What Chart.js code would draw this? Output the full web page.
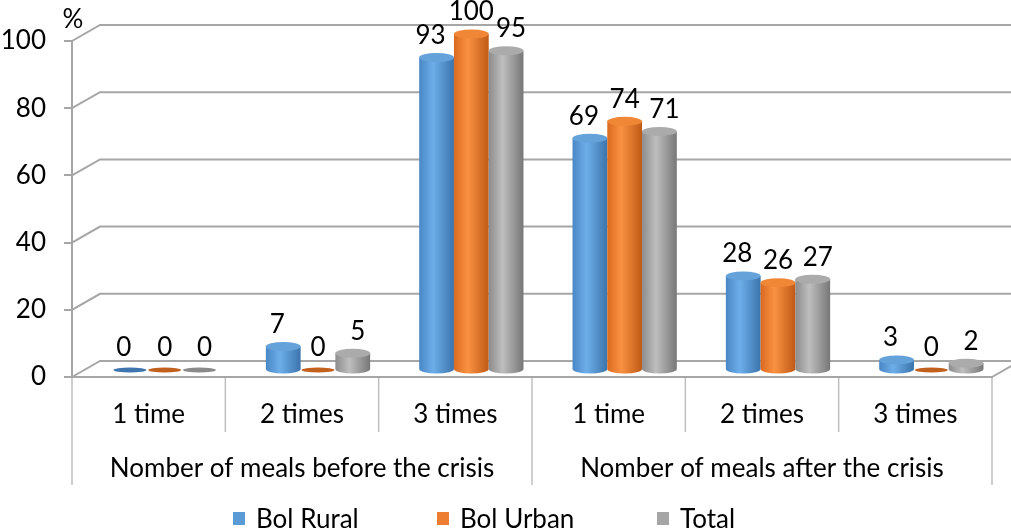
<!DOCTYPE html>
<html>
<head>
<meta charset="utf-8">
<script src="https://cdn.jsdelivr.net/npm/chart.js@4.4.0/dist/chart.umd.min.js"></script>
<style>
  html, body { margin: 0; padding: 0; background: #fff; }
  #wrap { position: relative; width: 1011px; height: 531px; }
  #legend { position: absolute; left: 233px; top: 502px; display: flex; font: 26px Lato, sans-serif; color: #000; }
  #legend .item { display: flex; align-items: center; }
  #legend .item:nth-child(1) { width: 204px; }
  #legend .item:nth-child(2) { width: 220px; }
  #legend .sq { width: 12px; height: 13px; margin-right: 11px; }
</style>
</head>
<body>
<div id="wrap">
  <canvas id="meals-chart" width="1011" height="531"></canvas>
  <div id="legend"></div>
</div>
<script>
const categories = ['1 time', '2 times', '3 times', '1 time', '2 times', '3 times'];
const groups = ['Nomber of meals before the crisis', 'Nomber of meals after the crisis'];
const bolRural = [0, 7, 93, 69, 28, 3];
const bolUrban = [0, 0, 100, 74, 26, 0];
const total = [0, 5, 95, 71, 27, 2];
const yTicks = [0, 20, 40, 60, 80, 100];

const FONT = 'Lato, sans-serif';
const FONT_SIZE = 26;
const GRID = '#A6A6A6';

// shading for each cylinder: edge / highlight / shadow / top cap / flat disk
const shades = [
  { edge: '#4A86C5', light: '#6DAEE9', dark: '#3C74AC', top: '#66A2DA', flat: '#3E75AE' },
  { edge: '#D96A20', light: '#FA9242', dark: '#BF5916', top: '#F08736', flat: '#C2601E' },
  { edge: '#8C8C8C', light: '#BEBEBE', dark: '#777777', top: '#ABABAB', flat: '#8A8A8A' },
];

// depth of the 3D box, and where the bars stand inside it
const DX = 28, DY = -16;
const OX = 16, OY = -7;

function drawCylinder(ctx, cx, top, bottom, w, c) {
  const rx = w / 2;
  if (bottom - top < 1) {
    ctx.fillStyle = c.flat;
    ctx.beginPath();
    ctx.ellipse(cx, bottom, rx - 1, 2.6, 0, 0, Math.PI * 2);
    ctx.fill();
    return;
  }
  const ry = 4.5;
  const g = ctx.createLinearGradient(cx - rx, 0, cx + rx, 0);
  g.addColorStop(0, c.edge);
  g.addColorStop(0.4, c.light);
  g.addColorStop(1, c.dark);
  ctx.fillStyle = g;
  ctx.beginPath();
  ctx.moveTo(cx - rx, top);
  ctx.lineTo(cx - rx, bottom);
  ctx.ellipse(cx, bottom, rx, ry, 0, Math.PI, 0, true);
  ctx.lineTo(cx + rx, top);
  ctx.closePath();
  ctx.fill();
  ctx.fillStyle = c.top;
  ctx.beginPath();
  ctx.ellipse(cx, top, rx, ry, 0, 0, Math.PI * 2);
  ctx.fill();
}

const box3d = {
  id: 'box3d',
  beforeDatasetsDraw(chart) {
    const { ctx, chartArea: a, scales: { x, y } } = chart;
    ctx.save();

    // back wall gridlines with their slanted left ends
    ctx.strokeStyle = GRID;
    ctx.lineWidth = 2;
    y.ticks.forEach(t => {
      const py = y.getPixelForValue(t.value);
      ctx.beginPath();
      ctx.moveTo(a.left, py);
      ctx.lineTo(a.left + DX, py + DY);
      ctx.lineTo(a.right + DX, py + DY);
      ctx.stroke();
    });
    const p0 = y.getPixelForValue(0);
    ctx.beginPath();
    ctx.moveTo(a.right, p0);
    ctx.lineTo(a.right + DX, p0 + DY);
    ctx.stroke();

    // category separators below the floor
    ctx.strokeStyle = '#BFBFBF';
    ctx.lineWidth = 1.5;
    const cw = x.getPixelForValue(1) - x.getPixelForValue(0);
    for (let i = 0; i <= categories.length; i++) {
      const px = x.getPixelForValue(0) - cw / 2 + i * cw;
      ctx.beginPath();
      ctx.moveTo(px, p0 + 1);
      ctx.lineTo(px, p0 + (i % 3 === 0 ? 108 : 55));
      ctx.stroke();
    }

    // unit label
    ctx.fillStyle = '#000';
    ctx.font = FONT_SIZE + 'px ' + FONT;
    ctx.textAlign = 'center';
    ctx.textBaseline = 'middle';
    ctx.fillText('%', a.left + 1, a.top - 21);

    // cylinders, category by category
    const metas = chart.data.datasets.map((d, i) => chart.getDatasetMeta(i));
    const labelShift = [-6, 0, 5];
    for (let j = 0; j < categories.length; j++) {
      metas.forEach((meta, i) => {
        const el = meta.data[j];
        const p = el.getProps(['x', 'y', 'base', 'width'], true);
        drawCylinder(ctx, p.x + OX, p.y + OY, p.base + OY, p.width, shades[i]);
      });
    }
    metas.forEach((meta, i) => {
      meta.data.forEach((el, j) => {
        const p = el.getProps(['x', 'y'], true);
        ctx.fillStyle = '#000';
        ctx.fillText(String(chart.data.datasets[i].data[j]), p.x + OX + labelShift[i], p.y + OY - 22);
      });
    });

    ctx.restore();
    return false;
  }
};

const chartEl = document.getElementById('meals-chart');

const mealsChart = new Chart(chartEl, {
  type: 'bar',
  data: {
    labels: categories,
    datasets: [
      { label: 'Bol Rural', data: bolRural, backgroundColor: '#5B9BD5' },
      { label: 'Bol Urban', data: bolUrban, backgroundColor: '#ED7D31' },
      { label: 'Total', data: total, backgroundColor: '#A5A5A5' },
    ],
  },
  options: {
    responsive: false,
    animation: false,
    devicePixelRatio: 1,
    layout: { padding: { top: 41, right: 19, bottom: 53, left: 0 } },
    datasets: { bar: { barPercentage: 1, categoryPercentage: 0.68 } },
    plugins: { legend: { display: false }, tooltip: { enabled: false } },
    scales: {
      y: {
        min: 0,
        max: 100,
        afterBuildTicks: (scale) => { scale.ticks = yTicks.map(v => ({ value: v })); },
        afterFit: (scale) => { scale.width = 72; },
        grid: { drawOnChartArea: false, tickLength: 8, color: GRID, lineWidth: 2 },
        border: { display: true, color: GRID, width: 2 },
        ticks: { padding: 18, color: '#000', font: { family: FONT, size: FONT_SIZE } },
      },
      x: {
        weight: 0,
        afterFit: (scale) => { scale.height = 65; },
        grid: { display: false },
        border: { display: true, color: GRID, width: 2 },
        ticks: { padding: 14, color: '#000', font: { family: FONT, size: FONT_SIZE }, maxRotation: 0 },
      },
      x2: {
        type: 'category',
        position: 'bottom',
        labels: groups,
        offset: true,
        weight: 1,
        afterFit: (scale) => { scale.height = 36; },
        grid: { display: false },
        border: { display: false },
        ticks: { padding: 3, color: '#000', font: { family: FONT, size: FONT_SIZE }, maxRotation: 0 },
      },
    },
  },
  plugins: [box3d],
});

// html legend built from the datasets
const legendEl = document.getElementById('legend');
mealsChart.data.datasets.forEach(ds => {
  const item = document.createElement('div');
  item.className = 'item';
  item.innerHTML = '<span class="sq" style="background:' + ds.backgroundColor + '"></span>' + ds.label;
  legendEl.appendChild(item);
});
</script>
</body>
</html>
